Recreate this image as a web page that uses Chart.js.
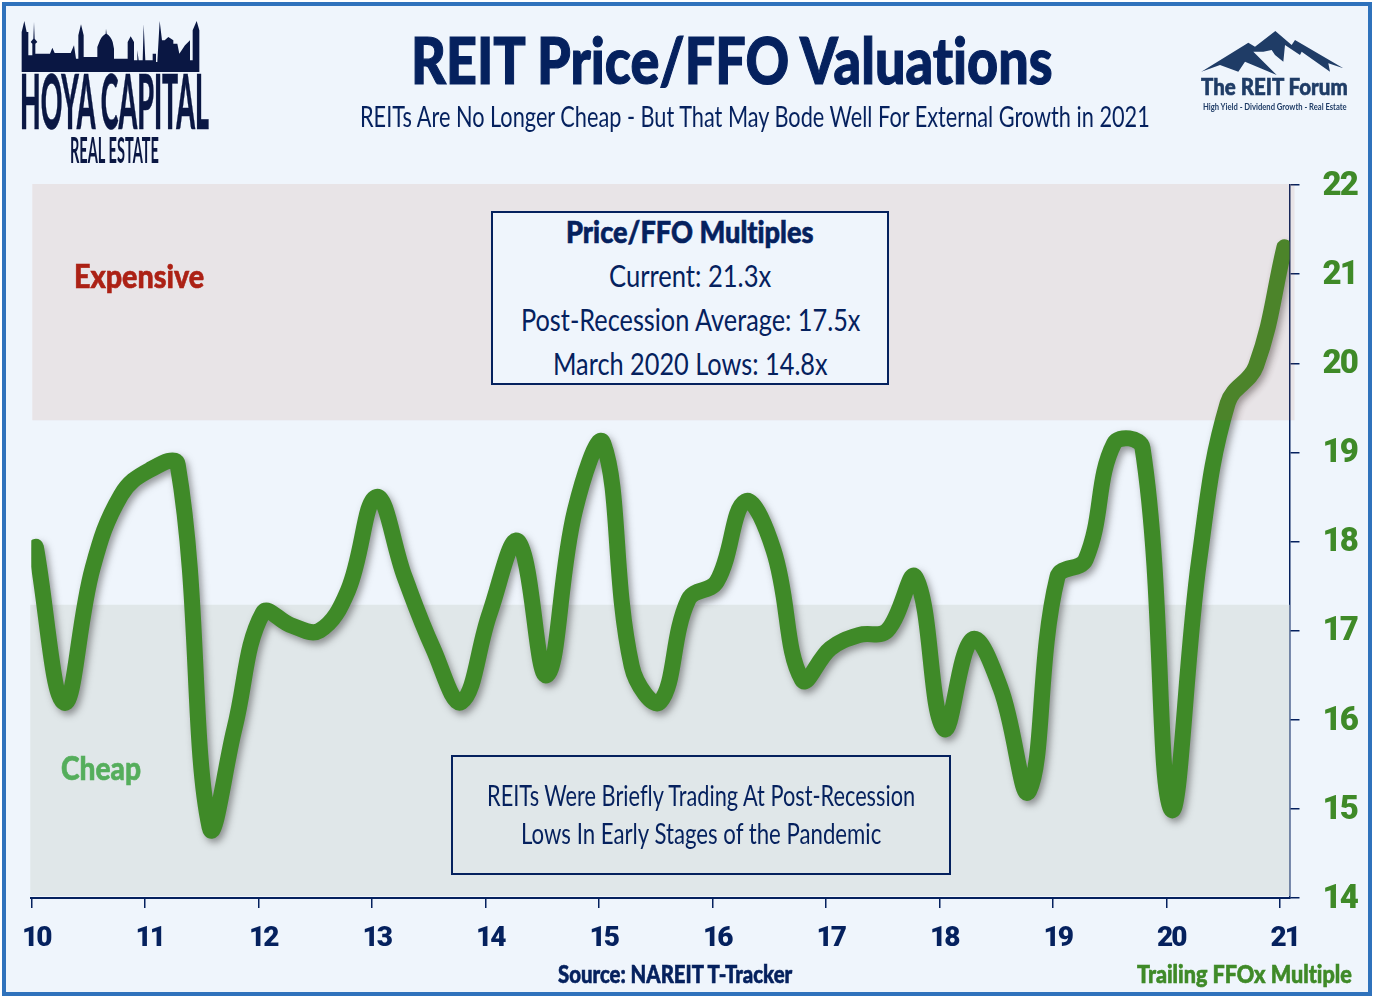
<!DOCTYPE html>
<html>
<head>
<meta charset="utf-8">
<title>REIT Price/FFO Valuations</title>
<script src="https://cdn.jsdelivr.net/npm/chart.js@4"></script>
<style>
html, body { margin: 0; padding: 0; background: #fff; }
#page { position: relative; width: 1376px; height: 1000px; overflow: hidden; }
#frame { position: absolute; left: 2px; top: 2px; width: 1362px; height: 986px; background: #eff5fc; border: 4px solid #2f72bc; }
#chart-wrap { position: absolute; left: 0; top: 0; width: 1376px; height: 1000px; }
.t { position: absolute; white-space: nowrap; font-family: Lato, sans-serif; font-variant-ligatures: none; color: #05215e; transform-origin: left top; line-height: 1; }
.b { font-weight: 900; -webkit-text-stroke: .6px currentColor; }
.box { position: absolute; box-sizing: border-box; border: 2px solid #05215e; }
svg { position: absolute; }
</style>
</head>
<body>
<div id="page">
    <div id="frame"></div>
    <div id="chart-wrap"><canvas id="ffo-chart" width="1376" height="1000"></canvas></div>

    <svg style="left:0;top:0" width="200" height="74" viewBox="0 0 600 220">
        <path fill="#0a1743" d="M65 215V95L73 62L80 95H85V165H97V130L92 125L100 115L102 65L104 115L112 125L106 130V160H150L157 142L164 158H212L222 135L228 175H235V105L243 72L251 105V170H292V140L300 120C305 108 312 103 317 100L318 85L320 100C328 105 335 115 338 125L342 145V175H383V125L392 108L402 125V180H412V150L416 180H428L431 72L436 180H458V160H468V185H472L479 62L486 120H494L505 110L520 120V130H532L538 160L555 135L570 120V180H578V90L590 62L598 90V215Z"/>
    </svg>
    <div class="t b" data-w="189" style="left:20px;top:62px;font-size:76px;color:#0a1743">HOYA CAPITAL</div>
    <div class="t" data-w="89" style="left:70px;top:130px;font-size:37px;color:#0a1743;font-weight:700">REAL ESTATE</div>

    <div class="t b" data-w="642" style="left:411px;top:27px;font-size:65px;-webkit-text-stroke-width:1.2px">REIT Price/FFO Valuations</div>
    <div class="t" data-w="790" style="left:360px;top:102px;font-size:28px">REITs Are No Longer Cheap - But That May Bode Well For External Growth in 2021</div>

    <svg style="left:1000px;top:0" width="376" height="100" viewBox="0 0 1128 300">
        <path fill="#1f3c66" d="M604 215L745 128L765 140L826 93L875 135L885 120L1030 205L985 190L990 215L905 155L900 165L855 135L850 185L825 165L815 150L790 155L760 155L830 225L735 185L715 215L660 195Z"/>
    </svg>
    <div class="t b" data-w="147" style="left:1201px;top:75px;font-size:23px;color:#1f3c66">The REIT Forum</div>
    <div class="t" data-w="144" style="left:1203px;top:101px;font-size:10px;font-weight:700;color:#1f3c66">High Yield - Dividend Growth - Real Estate</div>

    <div class="t b" data-w="130" style="left:74px;top:260px;font-size:32px;color:#ac2115">Expensive</div>
    <div class="t b" data-w="80" style="left:61px;top:752px;font-size:32px;color:#55ae5c">Cheap</div>

    <div class="box" style="left:491px;top:211px;width:398px;height:174px;background:#eff5fc"></div>
    <div class="t b" data-w="248" style="left:566px;top:216px;font-size:30px">Price/FFO Multiples</div>
    <div class="t" data-w="162" style="left:609px;top:260px;font-size:30px">Current: 21.3x</div>
    <div class="t" data-w="339" style="left:521px;top:304px;font-size:30px">Post-Recession Average: 17.5x</div>
    <div class="t" data-w="275" style="left:553px;top:348px;font-size:30px">March 2020 Lows: 14.8x</div>

    <div class="box" style="left:451px;top:755px;width:500px;height:120px"></div>
    <div class="t" data-w="428" style="left:487px;top:781px;font-size:28px">REITs Were Briefly Trading At Post-Recession</div>
    <div class="t" data-w="360" style="left:521px;top:819px;font-size:28px">Lows In Early Stages of the Pandemic</div>

    <div class="t b" data-w="234" style="left:558px;top:962px;font-size:24px">Source: NAREIT T-Tracker</div>
    <div class="t b" data-w="215" style="left:1137px;top:962px;font-size:24px;color:#3f8a28">Trailing FFOx Multiple</div>
</div>
<script>
// x position in years, quarterly readings
const quarters = [
    10.04, 10.29, 10.54, 10.79, 11.04, 11.29, 11.57, 11.79, 12.04, 12.29, 12.54, 12.79,
    13.04, 13.29, 13.54, 13.79, 14.04, 14.29, 14.54, 14.79, 15.04, 15.29, 15.54, 15.79,
    16.04, 16.29, 16.54, 16.79, 17.04, 17.29, 17.54, 17.79, 18.04, 18.29, 18.54, 18.79,
    19.04, 19.29, 19.54, 19.79, 20.04, 20.29, 20.54, 20.79, 21.04
];
const ffoMultiple = [
    17.94, 16.19, 17.7, 18.52, 18.8, 18.86, 14.8, 15.9, 17.2, 17.06, 17.0, 17.45,
    18.5, 17.6, 16.8, 16.2, 17.2, 18.0, 16.5, 18.35, 19.1, 16.6, 16.2, 17.35,
    17.55, 18.45, 17.9, 16.45, 16.8, 16.95, 17.0, 17.6, 15.9, 16.9, 16.35, 15.2,
    17.6, 17.8, 19.1, 19.05, 15.0, 17.8, 19.55, 19.97, 21.3
];
const expensiveFrom = 19.36;
const cheapTo = 17.29;

const navy = '#05215e';
const green = '#3f8a28';

// squeeze the text to the condensed widths of the original
document.querySelectorAll('.t[data-w]').forEach(el => {
    el.style.transform = `scaleX(${el.dataset.w / el.offsetWidth})`;
});

// cheap zone sits behind the line, expensive zone is a tint over it
const zones = {
    id: 'zones',
    beforeDraw(chart) {
        // tick digits are tighter than the stock font
        chart.ctx.letterSpacing = '-2px';
    },
    beforeDatasetsDraw(chart) {
        const { ctx, scales: { x, y } } = chart;
        const top = y.getPixelForValue(cheapTo);
        ctx.save();
        ctx.fillStyle = '#e0e7e9';
        ctx.fillRect(x.left - 1, top, x.right - x.left + 1, y.bottom - top - 2);
        ctx.restore();
    },
    afterDatasetsDraw(chart) {
        const { ctx, scales: { x, y } } = chart;
        ctx.save();
        ctx.fillStyle = 'rgba(183,88,67,0.108)';
        ctx.fillRect(x.left + 1, y.top - 1, x.right - x.left + 4, y.getPixelForValue(expensiveFrom) - y.top + 1);
        ctx.restore();
    }
};

// soft drop shadow under the line
const lineShadow = {
    id: 'lineShadow',
    beforeDatasetDraw(chart) {
        const ctx = chart.ctx;
        ctx.save();
        ctx.shadowColor = 'rgba(60,60,60,0.5)';
        ctx.shadowBlur = 7;
        ctx.shadowOffsetX = 3;
        ctx.shadowOffsetY = 4;
    },
    afterDatasetDraw(chart) {
        chart.ctx.restore();
    }
};

new Chart(document.getElementById('ffo-chart').getContext('2d'), {
    type: 'line',
    data: {
        datasets: [{
            data: quarters.map((q, i) => ({ x: q, y: ffoMultiple[i] })),
            borderColor: green,
            borderWidth: 16,
            borderCapStyle: 'round',
            borderJoinStyle: 'round',
            tension: 0.4,
            pointRadius: 0,
            clip: { left: 0, right: 0, top: 20, bottom: 20 }
        }]
    },
    plugins: [zones, lineShadow],
    options: {
        responsive: false,
        animation: false,
        layout: { padding: { left: 31.3, top: 185, right: 0, bottom: 0 } },
        plugins: { legend: { display: false }, tooltip: { enabled: false } },
        scales: {
            x: {
                type: 'linear',
                min: 10,
                max: 21.085,
                afterFit(scale) { scale.height = 102; },
                border: { color: navy, width: 2 },
                grid: { drawOnChartArea: false, drawTicks: true, color: navy, tickLength: 10, lineWidth: 1.5 },
                ticks: {
                    stepSize: 1,
                    includeBounds: false,
                    maxRotation: 0,
                    color: navy,
                    padding: 14,
                    labelOffset: 5,
                    font: { family: 'Roboto, sans-serif', size: 28, weight: '900' }
                }
            },
            y: {
                position: 'right',
                min: 14,
                max: 22,
                afterFit(scale) { scale.width = 86.5; },
                border: { color: navy, width: 1.5 },
                grid: { drawOnChartArea: false, drawTicks: true, color: navy, tickLength: 10, lineWidth: 1.5 },
                ticks: {
                    stepSize: 1,
                    color: green,
                    padding: 23,
                    labelOffset: 1.5,
                    font: { family: 'Roboto, sans-serif', size: 33, weight: '900' }
                }
            }
        }
    }
});
</script>
</body>
</html>
